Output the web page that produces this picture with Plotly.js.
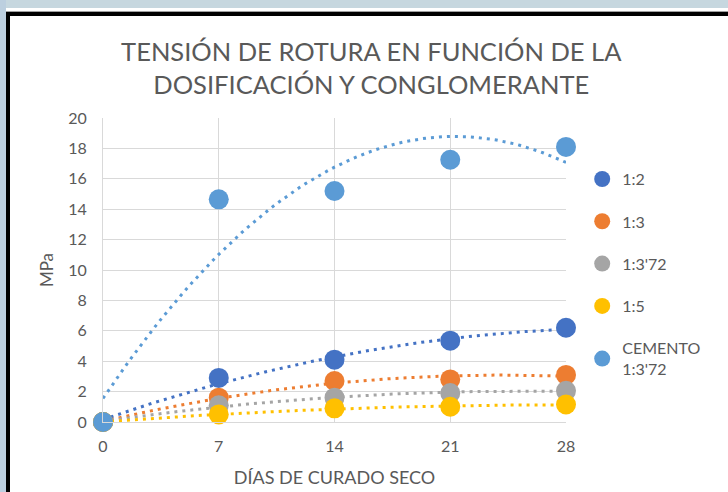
<!DOCTYPE html>
<html>
<head>
<meta charset="utf-8">
<script src="https://cdn.plot.ly/plotly-3.0.1.min.js"></script>
<style>
  html, body { margin: 0; padding: 0; width: 728px; height: 492px; overflow: hidden; background: #c6d7df; }
  #chart { position: absolute; left: 0; top: 0; width: 728px; height: 492px; }
  .deco { position: absolute; pointer-events: none; }
</style>
</head>
<body>
<div id="chart"></div>
<div class="deco" style="left:0;top:0;width:728px;height:8px;background:#c6d7df;"></div>
<div class="deco" style="left:0;top:0;width:6px;height:492px;background:#bccfdf;"></div>
<div class="deco" style="left:6px;top:8px;width:722px;height:3px;background:#ffffff;"></div>
<div class="deco" style="left:6px;top:11px;width:722px;height:1px;background:#a0a0a0;"></div>
<div class="deco" style="left:6px;top:12px;width:722px;height:4px;background:#000000;"></div>
<div class="deco" style="left:6px;top:12px;width:4px;height:480px;background:#000000;"></div>
<script>
// ---- data ----
const dias = [0, 7, 14, 21, 28];
const xTicks = [0, 7, 14, 21, 28];
const yTicks = [0, 2, 4, 6, 8, 10, 12, 14, 16, 18, 20];
const seriesNames = ["1:2", "1:3", "1:3'72", "1:5", "CEMENTO<br>1:3'72"];
const s12 = [0, 2.9, 4.1, 5.35, 6.2];
const s13 = [0, 1.6, 2.7, 2.8, 3.1];
const s1372 = [0, 1.1, 1.6, 1.9, 2.05];
const s15 = [0, 0.5, 0.9, 1.0, 1.15];
const sCemento = [0, 14.65, 15.2, 17.25, 18.1];
const colors = ["#4472C4", "#ED7D31", "#A5A5A5", "#FFC000", "#5B9BD5"];

const allSeries = [s12, s13, s1372, s15, sCemento];

// quadratic least-squares trendline (as Excel polynomial order 2)
function quadFit(xs, ys) {
  let n = xs.length, Sx = 0, Sx2 = 0, Sx3 = 0, Sx4 = 0, Sy = 0, Sxy = 0, Sx2y = 0;
  for (let i = 0; i < n; i++) {
    const x = xs[i], y = ys[i];
    Sx += x; Sx2 += x * x; Sx3 += x * x * x; Sx4 += x * x * x * x;
    Sy += y; Sxy += x * y; Sx2y += x * x * y;
  }
  const A = [[n, Sx, Sx2, Sy], [Sx, Sx2, Sx3, Sxy], [Sx2, Sx3, Sx4, Sx2y]];
  for (let i = 0; i < 3; i++) {
    for (let k = i + 1; k < 3; k++) {
      const f = A[k][i] / A[i][i];
      for (let j = i; j < 4; j++) A[k][j] -= f * A[i][j];
    }
  }
  const c = [0, 0, 0];
  for (let i = 2; i >= 0; i--) {
    let s = A[i][3];
    for (let j = i + 1; j < 3; j++) s -= A[i][j] * c[j];
    c[i] = s / A[i][i];
  }
  return c;
}

const traces = [];
const xmin = dias[0], xmax = dias[dias.length - 1];
allSeries.forEach((ys, i) => {
  const c = quadFit(dias, ys);
  const tx = [], ty = [];
  const N = 80;
  for (let k = 0; k <= N; k++) {
    const x = xmin + (xmax - xmin) * k / N;
    tx.push(x); ty.push(c[0] + c[1] * x + c[2] * x * x);
  }
  traces.push({
    x: tx, y: ty, type: 'scatter', mode: 'lines', showlegend: false, hoverinfo: 'skip',
    line: { color: colors[i], width: 3, dash: '3px,5px' }, cliponaxis: false
  });
});
allSeries.forEach((ys, i) => {
  traces.push({
    x: dias, y: ys, type: 'scatter', mode: 'markers', name: seriesNames[i],
    legendgroup: 'g' + i,
    marker: { color: colors[i], size: 20, line: { width: 0 } }, cliponaxis: false
  });
});

const fontFam = 'Lato, "Open Sans", sans-serif';
const layout = {
  width: 728, height: 492,
  paper_bgcolor: '#ffffff', plot_bgcolor: '#ffffff',
  margin: { l: 103, r: 162, t: 118, b: 70 },
  font: { family: fontFam, color: '#595959', size: 16 },
  title: {
    text: 'TENSIÓN DE ROTURA EN FUNCIÓN DE LA<br>DOSIFICACIÓN Y CONGLOMERANTE',
    font: { family: fontFam, size: 25.5, color: '#595959' },
    x: 0.51, xanchor: 'center', y: 0.877, yanchor: 'middle'
  },
  xaxis: {
    range: [0, 28], tickvals: xTicks, ticktext: xTicks.map(String),
    showgrid: true, gridcolor: '#d9d9d9', gridwidth: 1,
    showline: true, linecolor: '#d9d9d9', linewidth: 1, zeroline: false,
    ticks: '', ticklabelstandoff: 10,
    tickfont: { size: 16, color: '#595959' },
    title: { text: 'DÍAS DE CURADO SECO', font: { size: 18, color: '#595959' }, standoff: 17 }
  },
  yaxis: {
    range: [0, 20], tickvals: yTicks, ticktext: yTicks.map(String),
    showgrid: true, gridcolor: '#d9d9d9', gridwidth: 1,
    showline: true, linecolor: '#d9d9d9', linewidth: 1, zeroline: false,
    ticks: '', ticklabelstandoff: 12,
    tickfont: { size: 16, color: '#595959' },
    title: { text: 'MPa', font: { size: 17, color: '#595959' }, standoff: 10 }
  },
  legend: {
    x: 1.035, xanchor: 'left', y: 0.855, yanchor: 'top',
    font: { size: 16, color: '#595959' },
    bgcolor: 'rgba(0,0,0,0)', tracegroupgap: 18.5, itemclick: false
  },
  showlegend: true
};

Plotly.newPlot('chart', traces, layout, { displayModeBar: false, staticPlot: true });
</script>
</body>
</html>
